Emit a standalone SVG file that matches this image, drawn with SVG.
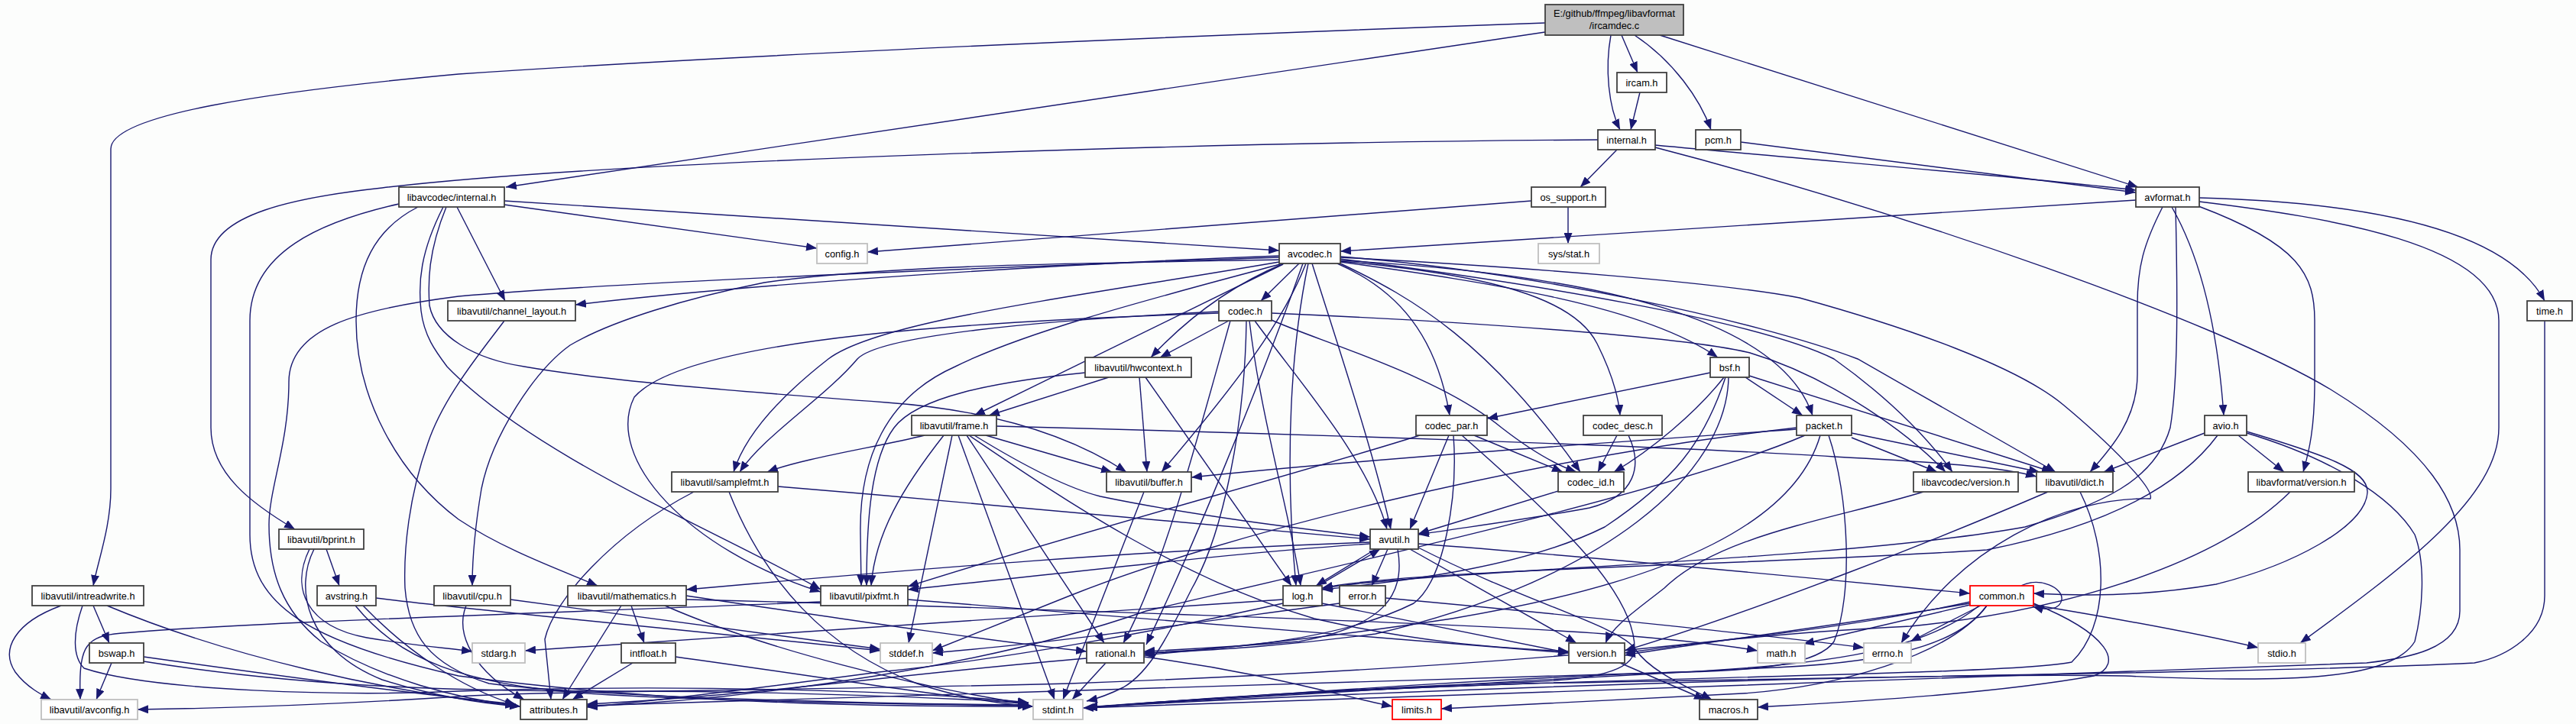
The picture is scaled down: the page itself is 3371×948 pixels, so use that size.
<svg xmlns="http://www.w3.org/2000/svg" width="3371" height="948" viewBox="0 0 3371 948">
<defs>
<marker id="a" viewBox="0 0 14 11" refX="14" refY="5.5" markerWidth="14" markerHeight="11" markerUnits="userSpaceOnUse" orient="auto"><path d="M0,0 L14,5.5 L0,11 z" fill="#191970"/></marker>
<style>
.e path{fill:none;stroke:#191970;stroke-width:1.4;marker-end:url(#a)}
.n rect{fill:#ffffff;stroke:#404040;stroke-width:1.8}
.g rect{stroke:#bfbfbf}
.r rect{stroke:#ff0000}
.m rect{fill:#bfbfbf}
text{font-family:"Liberation Sans",Arial,sans-serif;font-size:12.8px;text-anchor:middle;fill:#000000}
</style>
</defs>
<rect x="0" y="0" width="3371" height="948" fill="#fcfdfc"/>
<g id="edges" class="e">
<path d="M2022,30 C1600,45 1000,70 600,97 C350,120 145,150 145,195 L145,640 C145,690 128,735 122,767"/>
<path d="M2022,42 L662,245"/>
<path d="M2108,46 C2100,90 2105,140 2120,170"/>
<path d="M2122,46 L2143,95"/>
<path d="M2139,46 C2190,80 2225,130 2239,170"/>
<path d="M2172,46 L2798,245"/>
<path d="M2146,121 L2134,170"/>
<path d="M2278,186 L2795,252"/>
<path d="M2166,190 C2400,212 2650,232 2795,249"/>
<path d="M2116,196 L2068,245"/>
<path d="M2091,183 C1600,186 800,210 500,246 C390,258 276,280 276,340 L276,560 C276,620 330,660 386,693"/>
<path d="M2166,193 C2500,280 2900,420 3050,510 C3180,590 3219,660 3219,720 L3219,800 C3219,850 3150,862 3097,868 C2700,885 1800,912 1417,927"/>
<path d="M2004,263 L1135,330"/>
<path d="M2052,271 L2052,319"/>
<path d="M2795,262 L1754,329"/>
<path d="M2878,259 C3100,265 3280,300 3330,394"/>
<path d="M2878,264 C3050,285 3270,320 3270,420 L3270,560 C3270,650 3150,740 3010,842"/>
<path d="M2877,270 C3010,320 3029,360 3029,420 L3029,500 C3029,560 3022,590 3014,618"/>
<path d="M2842,271 C2870,320 2900,400 2910,544"/>
<path d="M2830,271 C2805,320 2797,350 2797,400 L2797,490 C2797,550 2760,590 2735,618"/>
<path d="M2847,271 C2850,400 2850,500 2840,560 C2820,630 2750,660 2650,690 C2400,735 1900,745 1730,770"/>
<path d="M660,263 L1674,328"/>
<path d="M660,268 L1069,325"/>
<path d="M598,271 L661,394"/>
<path d="M522,267 C420,290 327,330 327,420 L327,700 C327,790 400,840 600,885 C900,925 1200,925 1352,925"/>
<path d="M547,271 C490,300 466,350 466,420 C466,520 520,620 600,680 C660,720 730,745 782,767"/>
<path d="M580,271 C550,330 547,370 551,407 C555,440 570,460 585,480 C700,600 950,700 1074,772"/>
<path d="M584,271 C560,330 560,370 562,400 C570,440 620,470 686,480 C800,500 1000,515 1160,527 C1300,537 1400,570 1474,618"/>
<path d="M1700,345 L1650,394"/>
<path d="M1680,345 C1620,370 1560,410 1506,468"/>
<path d="M1679,346 L1275,544"/>
<path d="M1674,335 C1400,345 1000,370 753,399"/>
<path d="M1674,337 C1300,350 800,370 600,388 C467,405 378,430 378,500 C378,580 352,640 352,687 C352,750 370,800 420,840 C500,890 600,915 681,925"/>
<path d="M1674,343 C1400,390 1150,420 1084,470 C1020,520 975,570 960,618"/>
<path d="M1674,340 C1400,345 1160,347 1000,370 C900,390 800,420 746,452 C700,485 644,570 630,640 C620,700 618,740 618,767"/>
<path d="M1675,346 C1550,380 1350,430 1250,480 C1160,520 1124,600 1126,700 L1127,767"/>
<path d="M1712,345 C1690,450 1680,600 1696,767"/>
<path d="M1717,345 C1750,450 1800,600 1820,693"/>
<path d="M1709,345 C1680,420 1620,500 1520,618"/>
<path d="M1705,345 C1650,500 1560,720 1500,844"/>
<path d="M1754,343 C1950,370 2150,400 2248,468"/>
<path d="M1754,342 C1950,360 2060,390 2090,450 C2110,490 2118,520 2120,544"/>
<path d="M1750,345 C1830,380 1880,440 1897,544"/>
<path d="M1754,345 C1850,390 1950,450 2068,618"/>
<path d="M1754,341 C2100,360 2330,420 2372,544"/>
<path d="M1754,339 C2000,370 2300,420 2400,470 C2470,520 2520,570 2555,618"/>
<path d="M1754,336 C2000,355 2300,420 2431,470 L2690,618"/>
<path d="M1754,337 C2000,350 2250,370 2355,390 C2500,430 2640,480 2700,530 C2760,580 2820,640 2814,653 C2700,650 2560,720 2488,842"/>
<path d="M1631,420 C1629,560 1600,700 1560,770 C1530,830 1505,880 1470,900 C1450,910 1435,915 1422,918"/>
<path d="M1642,420 C1700,500 1790,600 1815,693"/>
<path d="M1608,420 L1518,468"/>
<path d="M1635,420 C1650,550 1690,680 1702,767"/>
<path d="M1595,410 C1300,420 900,440 830,520 C790,600 900,720 1074,775"/>
<path d="M1610,420 C1560,600 1520,750 1470,842"/>
<path d="M1595,408 C1350,420 1150,440 1122,470 C1080,520 1000,570 968,618"/>
<path d="M1664,419 C1720,445 1880,490 1965,560 C2010,595 2040,610 2063,618"/>
<path d="M1664,410 C1900,420 2200,440 2290,462 C2400,495 2500,570 2546,618"/>
<path d="M1491,494 L1501,618"/>
<path d="M1451,494 L1294,544"/>
<path d="M1499,494 L1690,767"/>
<path d="M1420,488 C1300,500 1200,520 1170,560 C1140,600 1134,680 1134,767"/>
<path d="M1246,570 L1189,842"/>
<path d="M1254,570 L1380,916"/>
<path d="M1275,570 C1340,610 1400,640 1440,650 C1560,675 1700,692 1793,703"/>
<path d="M1290,570 L1455,618"/>
<path d="M1304,558 C1700,568 2200,585 2400,598 C2550,606 2620,612 2665,624"/>
<path d="M1265,570 L1445,842"/>
<path d="M1210,570 C1150,585 1050,600 1004,618"/>
<path d="M1235,570 C1180,640 1145,700 1140,767"/>
<path d="M1268,570 C1400,660 1550,760 1720,810 C1850,840 1950,848 2053,853"/>
<path d="M954,644 C1000,760 1080,850 1200,895 C1260,915 1310,922 1352,925"/>
<path d="M1018,637 C1300,660 1600,690 1793,706"/>
<path d="M908,644 C800,700 724,787 713,837 L721,916"/>
<path d="M1497,644 L1391,916"/>
<path d="M1074,788 C800,800 300,815 150,830 C110,835 103,850 105,916"/>
<path d="M1188,785 C1500,810 1800,835 2053,855"/>
<path d="M1679,785 C1500,795 1200,815 687,852"/>
<path d="M1725,767 L1806,719"/>
<path d="M1679,790 C1500,830 1300,865 1150,880 C1000,900 850,918 768,926"/>
<path d="M1730,790 L2053,855"/>
<path d="M1856,712 C2100,730 2400,760 2578,777"/>
<path d="M1816,719 L1795,767"/>
<path d="M1829,719 C1840,780 1810,820 1700,840 C1600,848 1550,850 1497,853"/>
<path d="M1845,719 L2063,842"/>
<path d="M1856,717 C2000,790 2120,820 2140,850 C2160,880 2210,900 2240,916"/>
<path d="M1793,710 C1500,720 1200,745 898,772"/>
<path d="M1800,719 L1722,767"/>
<path d="M1793,712 C1600,725 1400,750 1188,772"/>
<path d="M1813,783 C2000,800 2300,830 2439,848"/>
<path d="M1753,790 C1600,810 1400,840 1220,855"/>
<path d="M1447,868 L1403,916"/>
<path d="M1497,860 C1650,880 1750,910 1822,925"/>
<path d="M1422,862 C1200,880 1000,910 768,922"/>
<path d="M2120,868 L2231,916"/>
<path d="M870,793 C1000,850 1200,900 1346,922"/>
<path d="M898,785 C1300,795 1900,815 2100,830 C2200,838 2260,845 2300,852"/>
<path d="M813,793 L736,916"/>
<path d="M898,780 C1100,810 1300,840 1422,853"/>
<path d="M826,793 L843,842"/>
<path d="M884,860 C1100,890 1250,915 1346,922"/>
<path d="M828,868 L749,916"/>
<path d="M668,785 L1152,850"/>
<path d="M610,793 C595,830 620,880 686,916"/>
<path d="M405,719 C380,770 400,820 480,835 C540,845 580,848 618,853"/>
<path d="M411,719 C385,770 400,850 500,890 C580,915 640,922 681,925"/>
<path d="M427,719 L444,767"/>
<path d="M492,783 C600,797 900,825 1152,852"/>
<path d="M465,793 C520,860 600,900 800,910 C1000,920 1200,922 1346,924"/>
<path d="M475,793 C530,850 600,900 675,923"/>
<path d="M80,793 C20,815 0,850 20,880 C35,900 55,910 67,916"/>
<path d="M122,793 L143,842"/>
<path d="M140,793 C300,860 500,905 675,924"/>
<path d="M108,793 C95,830 95,860 110,875 C200,905 450,912 600,905 C900,895 1200,905 1346,920"/>
<path d="M146,868 L126,916"/>
<path d="M188,860 C400,890 550,910 675,922"/>
<path d="M188,866 C400,900 600,905 800,905 C1000,905 1200,912 1346,920"/>
<path d="M660,420 C630,460 580,520 560,580 C535,650 528,720 530,770 C535,830 560,870 640,895 C800,915 1200,922 1346,923"/>
<path d="M1913,570 C2050,690 2140,780 2139,850 C2138,880 2080,890 2000,893 C1800,900 1550,915 1422,927"/>
<path d="M1902,570 C1908,650 1890,760 1850,790 C1750,840 1600,850 1497,855"/>
<path d="M1896,570 L1845,693"/>
<path d="M1858,570 C1700,620 1400,700 1188,768"/>
<path d="M1929,570 L2045,618"/>
<path d="M2116,570 L2091,618"/>
<path d="M2131,570 C2150,610 2140,650 2080,665 C2000,680 1920,690 1856,700"/>
<path d="M2039,643 L1856,699"/>
<path d="M2238,488 L1946,548"/>
<path d="M2256,494 C2220,540 2160,590 2112,618"/>
<path d="M2258,494 C2230,580 2190,630 2100,690 C2000,740 1850,760 1730,772"/>
<path d="M2262,494 C2260,620 2100,760 1800,830 C1650,850 1550,852 1497,856"/>
<path d="M2289,492 L2686,618"/>
<path d="M2284,494 L2359,544"/>
<path d="M2351,560 C2000,600 1600,700 1400,780 C1300,820 1250,840 1220,852"/>
<path d="M2393,570 C2420,650 2425,780 2400,840 C2380,870 2300,878 2200,880 C1900,890 1600,915 1422,926"/>
<path d="M2362,570 C2200,640 1800,730 1500,800 C1300,870 1000,915 768,925"/>
<path d="M2351,562 C2100,580 1800,600 1559,625"/>
<path d="M2423,567 L2669,618"/>
<path d="M2382,570 C2350,680 2200,760 1900,810 C1700,840 1580,850 1497,858"/>
<path d="M2423,573 L2535,618"/>
<path d="M2517,644 C2400,680 2250,700 2178,770 C2140,800 2110,820 2101,842"/>
<path d="M2722,644 C2760,720 2760,820 2711,867 C2650,880 2300,885 2000,895 C1700,905 1500,920 1422,926"/>
<path d="M2680,644 C2550,700 2300,800 2126,852"/>
<path d="M2645,767 C2670,755 2700,770 2698,785 C2696,798 2680,800 2660,794"/>
<path d="M2592,793 L2500,840"/>
<path d="M2578,792 L2360,843"/>
<path d="M2600,793 C2560,850 2450,870 2300,875 C2000,890 1600,915 1422,926"/>
<path d="M2661,792 C2800,815 2900,835 2955,848"/>
<path d="M2590,793 C2520,850 2400,870 2200,880 C1800,895 1100,910 768,924"/>
<path d="M2661,790 C2760,830 2780,870 2740,885 C2600,910 2400,920 2300,926"/>
<path d="M2578,790 C2400,820 2200,845 2126,858"/>
<path d="M2578,788 C2300,850 1800,880 1400,895 C1000,905 700,905 600,912 C400,925 250,928 180,929"/>
<path d="M2600,793 C2550,860 2400,900 2280,908 C2100,918 1950,924 1886,928"/>
<path d="M2940,567 C3050,600 3130,650 3160,700 C3175,740 3170,800 3160,840 C3130,890 3000,895 2780,885 C2500,880 1800,905 1422,926"/>
<path d="M2940,565 C3040,595 3100,615 3098,645 C3095,690 3000,740 2900,765 C2800,782 2720,780 2661,777"/>
<path d="M2885,567 L2753,618"/>
<path d="M2902,570 C2850,640 2750,690 2600,720 C2300,740 1850,745 1730,770"/>
<path d="M2929,570 L2989,618"/>
<path d="M2997,644 C2900,740 2700,800 2500,820 C2300,830 2200,845 2126,855"/>
<path d="M3330,420 L3330,780 C3330,830 3280,860 3238,868 C3000,880 2500,885 2000,895 C1700,905 1500,920 1422,927"/>
</g>
<g id="n_main" class="n m"><rect x="2022" y="6" width="181" height="40"/><text x="2112.5" y="22">E:/github/ffmpeg/libavformat</text><text x="2112.5" y="38">/ircamdec.c</text></g>
<g id="n_ircam" class="n"><rect x="2116" y="95" width="65" height="26"/><text x="2148.5" y="112.5">ircam.h</text></g>
<g id="n_internal" class="n"><rect x="2091" y="170" width="75" height="26"/><text x="2128.5" y="187.5">internal.h</text></g>
<g id="n_pcm" class="n"><rect x="2219" y="170" width="59" height="26"/><text x="2248.5" y="187.5">pcm.h</text></g>
<g id="n_os_support" class="n"><rect x="2004" y="245" width="97" height="26"/><text x="2052.5" y="262.5">os_support.h</text></g>
<g id="n_avformat" class="n"><rect x="2795" y="245" width="83" height="26"/><text x="2836.5" y="262.5">avformat.h</text></g>
<g id="n_lavc_internal" class="n"><rect x="522" y="245" width="138" height="26"/><text x="591" y="262.5">libavcodec/internal.h</text></g>
<g id="n_config" class="n g"><rect x="1069" y="319" width="66" height="26"/><text x="1102" y="336.5">config.h</text></g>
<g id="n_avcodec" class="n"><rect x="1674" y="319" width="80" height="26"/><text x="1714" y="336.5">avcodec.h</text></g>
<g id="n_sysstat" class="n g"><rect x="2013" y="319" width="80" height="26"/><text x="2053" y="336.5">sys/stat.h</text></g>
<g id="n_channel_layout" class="n"><rect x="586" y="394" width="167" height="26"/><text x="669.5" y="411.5">libavutil/channel_layout.h</text></g>
<g id="n_codec" class="n"><rect x="1595" y="394" width="69" height="26"/><text x="1629.5" y="411.5">codec.h</text></g>
<g id="n_time" class="n"><rect x="3307" y="394" width="59" height="26"/><text x="3336.5" y="411.5">time.h</text></g>
<g id="n_hwcontext" class="n"><rect x="1420" y="468" width="139" height="26"/><text x="1489.5" y="485.5">libavutil/hwcontext.h</text></g>
<g id="n_bsf" class="n"><rect x="2238" y="468" width="51" height="26"/><text x="2263.5" y="485.5">bsf.h</text></g>
<g id="n_frame" class="n"><rect x="1193" y="544" width="111" height="26"/><text x="1248.5" y="561.5">libavutil/frame.h</text></g>
<g id="n_codec_par" class="n"><rect x="1853" y="544" width="93" height="26"/><text x="1899.5" y="561.5">codec_par.h</text></g>
<g id="n_codec_desc" class="n"><rect x="2072" y="544" width="103" height="26"/><text x="2123.5" y="561.5">codec_desc.h</text></g>
<g id="n_packet" class="n"><rect x="2351" y="544" width="72" height="26"/><text x="2387" y="561.5">packet.h</text></g>
<g id="n_avio" class="n"><rect x="2885" y="544" width="55" height="26"/><text x="2912.5" y="561.5">avio.h</text></g>
<g id="n_samplefmt" class="n"><rect x="879" y="618" width="139" height="26"/><text x="948.5" y="635.5">libavutil/samplefmt.h</text></g>
<g id="n_buffer" class="n"><rect x="1448" y="618" width="111" height="26"/><text x="1503.5" y="635.5">libavutil/buffer.h</text></g>
<g id="n_codec_id" class="n"><rect x="2039" y="618" width="86" height="26"/><text x="2082" y="635.5">codec_id.h</text></g>
<g id="n_lavc_version" class="n"><rect x="2504" y="618" width="137" height="26"/><text x="2572.5" y="635.5">libavcodec/version.h</text></g>
<g id="n_dict" class="n"><rect x="2665" y="618" width="100" height="26"/><text x="2715" y="635.5">libavutil/dict.h</text></g>
<g id="n_lavf_version" class="n"><rect x="2942" y="618" width="139" height="26"/><text x="3011.5" y="635.5">libavformat/version.h</text></g>
<g id="n_bprint" class="n"><rect x="365" y="693" width="111" height="26"/><text x="420.5" y="710.5">libavutil/bprint.h</text></g>
<g id="n_avutil" class="n"><rect x="1793" y="693" width="63" height="26"/><text x="1824.5" y="710.5">avutil.h</text></g>
<g id="n_intreadwrite" class="n"><rect x="42" y="767" width="146" height="26"/><text x="115" y="784.5">libavutil/intreadwrite.h</text></g>
<g id="n_avstring" class="n"><rect x="415" y="767" width="77" height="26"/><text x="453.5" y="784.5">avstring.h</text></g>
<g id="n_cpu" class="n"><rect x="568" y="767" width="100" height="26"/><text x="618" y="784.5">libavutil/cpu.h</text></g>
<g id="n_mathematics" class="n"><rect x="743" y="767" width="155" height="26"/><text x="820.5" y="784.5">libavutil/mathematics.h</text></g>
<g id="n_pixfmt" class="n"><rect x="1074" y="767" width="114" height="26"/><text x="1131" y="784.5">libavutil/pixfmt.h</text></g>
<g id="n_log" class="n"><rect x="1679" y="767" width="51" height="26"/><text x="1704.5" y="784.5">log.h</text></g>
<g id="n_error" class="n"><rect x="1753" y="767" width="60" height="26"/><text x="1783" y="784.5">error.h</text></g>
<g id="n_common" class="n r"><rect x="2578" y="767" width="83" height="26"/><text x="2619.5" y="784.5">common.h</text></g>
<g id="n_bswap" class="n"><rect x="117" y="842" width="71" height="26"/><text x="152.5" y="859.5">bswap.h</text></g>
<g id="n_stdarg" class="n g"><rect x="618" y="842" width="69" height="26"/><text x="652.5" y="859.5">stdarg.h</text></g>
<g id="n_intfloat" class="n"><rect x="813" y="842" width="71" height="26"/><text x="848.5" y="859.5">intfloat.h</text></g>
<g id="n_stddef" class="n g"><rect x="1152" y="842" width="68" height="26"/><text x="1186" y="859.5">stddef.h</text></g>
<g id="n_rational" class="n"><rect x="1422" y="842" width="75" height="26"/><text x="1459.5" y="859.5">rational.h</text></g>
<g id="n_version" class="n"><rect x="2053" y="842" width="73" height="26"/><text x="2089.5" y="859.5">version.h</text></g>
<g id="n_math" class="n g"><rect x="2300" y="842" width="62" height="26"/><text x="2331" y="859.5">math.h</text></g>
<g id="n_errno" class="n g"><rect x="2439" y="842" width="62" height="26"/><text x="2470" y="859.5">errno.h</text></g>
<g id="n_stdio" class="n g"><rect x="2955" y="842" width="62" height="26"/><text x="2986" y="859.5">stdio.h</text></g>
<g id="n_avconfig" class="n g"><rect x="54" y="916" width="126" height="26"/><text x="117" y="933.5">libavutil/avconfig.h</text></g>
<g id="n_attributes" class="n"><rect x="681" y="916" width="87" height="26"/><text x="724.5" y="933.5">attributes.h</text></g>
<g id="n_stdint" class="n g"><rect x="1352" y="916" width="65" height="26"/><text x="1384.5" y="933.5">stdint.h</text></g>
<g id="n_limits" class="n r"><rect x="1822" y="916" width="64" height="26"/><text x="1854" y="933.5">limits.h</text></g>
<g id="n_macros" class="n"><rect x="2224" y="916" width="76" height="26"/><text x="2262" y="933.5">macros.h</text></g>
</svg>
